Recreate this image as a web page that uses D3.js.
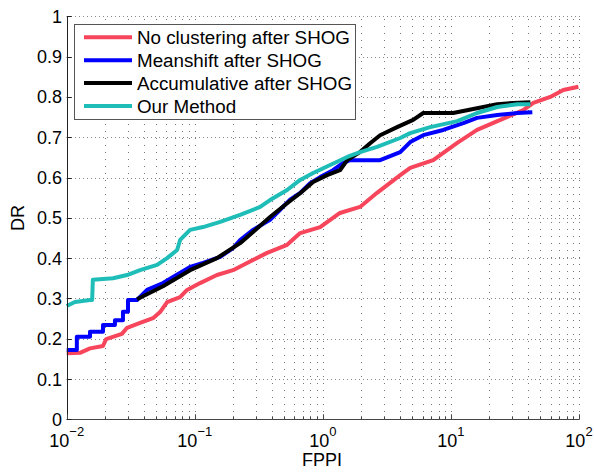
<!DOCTYPE html>
<html lang="en">
<head>
    <meta charset="UTF-8">
    <title>DR vs FPPI</title>
    <script src="https://d3js.org/d3.v7.min.js"></script>
    <style>
        body { margin: 0; background: #fff; }
        svg { display: block; }
        text { font-family: "Liberation Sans", Arial, sans-serif; fill: #000; }
        .grid line { stroke-width: 1; shape-rendering: crispEdges; }
        .curve { fill: none; stroke-width: 4; stroke-linejoin: round; stroke-linecap: butt; }
    </style>
</head>
<body>
    <script>
        // series names and colors (legend order)
        const seriesNames = ["No clustering after SHOG", "Meanshift after SHOG", "Accumulative after SHOG", "Our Method"];
        const seriesColors = ["#f7455b", "#0000ff", "#000000", "#1ebdb8"];

        // [FPPI, DR]
        const noClustering = [
            [0.01, 0.164], [0.0127, 0.165], [0.0152, 0.176], [0.0192, 0.182], [0.0203, 0.199],
            [0.027, 0.212], [0.0296, 0.227], [0.0374, 0.239], [0.0472, 0.251], [0.0536, 0.266],
            [0.0608, 0.291], [0.0768, 0.303], [0.0871, 0.321], [0.110, 0.338], [0.149, 0.358],
            [0.199, 0.370], [0.256, 0.388], [0.367, 0.413], [0.526, 0.433], [0.665, 0.462],
            [0.953, 0.477], [1.36, 0.512], [1.95, 0.527], [2.65, 0.562], [4.02, 0.606],
            [4.81, 0.624], [7.28, 0.643], [11.2, 0.686], [16.0, 0.718], [24.3, 0.743],
            [36.7, 0.767], [44.0, 0.785], [59.7, 0.800], [75.4, 0.817], [98.9, 0.825]
        ];
        const meanshift = [
            [0.01, 0.172], [0.0120, 0.172], [0.0120, 0.205], [0.0152, 0.205], [0.0152, 0.217],
            [0.0192, 0.217], [0.0192, 0.234], [0.0238, 0.234], [0.0238, 0.246], [0.0275, 0.246],
            [0.0275, 0.267], [0.0301, 0.267], [0.0301, 0.296], [0.0354, 0.296], [0.0424, 0.321],
            [0.0565, 0.338], [0.0677, 0.353], [0.0919, 0.378], [0.116, 0.388], [0.158, 0.403],
            [0.199, 0.425], [0.226, 0.445], [0.285, 0.470], [0.387, 0.495], [0.464, 0.520],
            [0.555, 0.545], [0.665, 0.562], [0.796, 0.586], [0.953, 0.601], [1.20, 0.618],
            [1.44, 0.636], [1.63, 0.643], [2.80, 0.643], [4.02, 0.663], [4.81, 0.688],
            [6.08, 0.705], [8.71, 0.718], [12.5, 0.735], [16.0, 0.748], [23.0, 0.755],
            [33.0, 0.760], [43.2, 0.762]
        ];
        const accumulative = [
            [0.0354, 0.298], [0.0565, 0.330], [0.0919, 0.370], [0.149, 0.400], [0.226, 0.437],
            [0.285, 0.465], [0.387, 0.502], [0.526, 0.536], [0.665, 0.561], [0.84, 0.589],
            [1.08, 0.606], [1.36, 0.618], [1.55, 0.643], [1.95, 0.663], [2.34, 0.685],
            [2.80, 0.705], [3.80, 0.725], [5.07, 0.743], [6.08, 0.760], [10.4, 0.760],
            [16.0, 0.772], [23.0, 0.782], [30.7, 0.785], [41.7, 0.787]
        ];
        const ourMethod = [
            [0.01, 0.281], [0.0116, 0.291], [0.0152, 0.296], [0.0158, 0.296], [0.0160, 0.346],
            [0.023, 0.350], [0.0296, 0.358], [0.0374, 0.370], [0.0508, 0.383], [0.0608, 0.400],
            [0.0728, 0.420], [0.0768, 0.445], [0.0919, 0.470], [0.116, 0.477], [0.158, 0.490],
            [0.226, 0.507], [0.324, 0.527], [0.387, 0.544], [0.526, 0.569], [0.665, 0.594],
            [0.84, 0.611], [1.14, 0.631], [1.55, 0.651], [1.95, 0.663], [2.65, 0.676],
            [4.02, 0.698], [4.81, 0.710], [6.89, 0.725], [11.2, 0.740], [16.0, 0.760],
            [23.0, 0.775], [33.0, 0.782], [41.7, 0.782]
        ];

        // ticks
        const xMajor = [0.01, 0.1, 1, 10, 100];
        const xExponents = ["\u22122", "\u22121", "0", "1", "2"];
        const yTicks = [0, 0.1, 0.2, 0.3, 0.4, 0.5, 0.6, 0.7, 0.8, 0.9, 1];
        const yTickLabels = ["0", "0.1", "0.2", "0.3", "0.4", "0.5", "0.6", "0.7", "0.8", "0.9", "1"];

        const width = 594, height = 473;
        const plot = { left: 66.7, right: 579, top: 16.3, bottom: 419.3 };

        const x = d3.scaleLog().domain([0.01, 100]).range([plot.left, plot.right]);
        const y = d3.scaleLinear().domain([0, 1]).range([plot.bottom, plot.top]);

        const svg = d3.select("body").append("svg")
            .attr("width", width)
            .attr("height", height);

        // minor log positions 2..9 in each decade
        const xMinor = [];
        xMajor.slice(0, -1).forEach(d => {
            for (let k = 2; k <= 9; k++) xMinor.push(d * k);
        });
        const xAll = xMajor.concat(xMinor);

        // grid (dotted)
        const grid = svg.append("g").attr("class", "grid");
        grid.selectAll("line.v")
            .data(xAll)
            .enter().append("line")
            .attr("class", "v")
            .attr("x1", d => Math.round(x(d)) + 0.5)
            .attr("x2", d => Math.round(x(d)) + 0.5)
            .attr("y1", 419)
            .attr("y2", 16)
            .style("stroke", "#777")
            .style("stroke-dasharray", "1,6");
        grid.selectAll("line.h")
            .data(yTicks)
            .enter().append("line")
            .attr("class", "h")
            .attr("x1", 67)
            .attr("x2", 580)
            .attr("y1", d => Math.round(y(d)) + 0.5)
            .attr("y2", d => Math.round(y(d)) + 0.5)
            .style("stroke", "#888")
            .style("stroke-dasharray", "1,3");

        // curves
        const line = d3.line().x(d => x(d[0])).y(d => y(d[1]));
        const allSeries = [noClustering, meanshift, accumulative, ourMethod];
        svg.selectAll("path.curve")
            .data(allSeries)
            .enter().append("path")
            .attr("class", "curve")
            .attr("d", line)
            .style("stroke", (d, i) => seriesColors[i]);

        // axes lines and ticks
        const axis = svg.append("g");
        axis.append("line")
            .attr("x1", plot.left).attr("x2", plot.right)
            .attr("y1", Math.round(plot.bottom) + 0.5).attr("y2", Math.round(plot.bottom) + 0.5)
            .style("stroke", "#444");
        axis.append("line")
            .attr("x1", Math.round(plot.left) + 0.5).attr("x2", Math.round(plot.left) + 0.5)
            .attr("y1", plot.top).attr("y2", plot.bottom)
            .style("stroke", "#222");

        axis.selectAll("line.xt")
            .data(xAll)
            .enter().append("line")
            .attr("x1", d => Math.round(x(d)) + 0.5)
            .attr("x2", d => Math.round(x(d)) + 0.5)
            .attr("y1", plot.bottom)
            .attr("y2", d => plot.bottom - (xMajor.includes(d) ? 5 : 3))
            .style("stroke", "#444");
        axis.selectAll("line.yt")
            .data(yTicks)
            .enter().append("line")
            .attr("x1", plot.left)
            .attr("x2", plot.left + 5)
            .attr("y1", d => Math.round(y(d)) + 0.5)
            .attr("y2", d => Math.round(y(d)) + 0.5)
            .style("stroke", "#222");

        // tick labels
        svg.selectAll("text.yl")
            .data(yTicks)
            .enter().append("text")
            .attr("x", 62)
            .attr("y", d => y(d) + 6.5)
            .attr("text-anchor", "end")
            .style("font-size", "18px")
            .text((d, i) => yTickLabels[i]);

        const xl = svg.selectAll("text.xl")
            .data(xMajor)
            .enter().append("text")
            .attr("x", d => x(d))
            .attr("y", 447)
            .attr("text-anchor", "middle")
            .style("font-size", "18px");
        xl.append("tspan").text("10");
        xl.append("tspan")
            .attr("dy", -11)
            .style("font-size", "13px")
            .text((d, i) => xExponents[i]);

        // axis titles
        svg.append("text")
            .attr("x", 322)
            .attr("y", 466)
            .attr("text-anchor", "middle")
            .style("font-size", "18px")
            .text("FPPI");
        svg.append("text")
            .attr("transform", "translate(24,218) rotate(-90)")
            .attr("text-anchor", "middle")
            .style("font-size", "18px")
            .text("DR");

        // legend
        const legend = svg.append("g");
        legend.append("rect")
            .attr("x", 74.5).attr("y", 24.5)
            .attr("width", 281).attr("height", 95)
            .style("fill", "#fff")
            .style("stroke", "#555");
        const rowY = i => 37.3 + i * 22.9;
        legend.selectAll("line.lg")
            .data(seriesNames)
            .enter().append("line")
            .attr("x1", 84).attr("x2", 132)
            .attr("y1", (d, i) => rowY(i)).attr("y2", (d, i) => rowY(i))
            .style("stroke", (d, i) => seriesColors[i])
            .style("stroke-width", 4);
        legend.selectAll("text.lg")
            .data(seriesNames)
            .enter().append("text")
            .attr("x", 137)
            .attr("y", (d, i) => rowY(i) + 6.5)
            .style("font-size", "18.8px")
            .text(d => d);
    </script>
</body>
</html>
